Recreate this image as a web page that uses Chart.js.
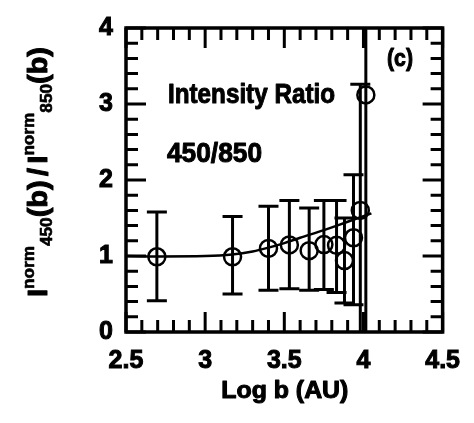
<!DOCTYPE html>
<html>
<head>
<meta charset="utf-8">
<script src="https://cdn.jsdelivr.net/npm/chart.js@4.4.1/dist/chart.umd.min.js"></script>
<style>
  html, body { margin: 0; padding: 0; background: #fff; }
  #wrap { width: 474px; height: 423px; }
</style>
</head>
<body>
<div id="wrap"><canvas id="ratioChart" width="474" height="423"></canvas></div>
<script>
// Intensity ratio 450/850 versus projected distance
const logB      = [2.695, 3.173, 3.40, 3.532, 3.657, 3.75, 3.83, 3.88, 3.937, 3.98, 4.015];
const ratio     = [0.99, 0.99, 1.10, 1.145, 1.07, 1.15, 1.14, 0.94, 1.24, 1.60, 3.12];
const ratioHigh = [1.58, 1.52, 1.655, 1.73, 1.63, 1.73, 1.73, 1.50, 2.07, 3.26, 4.6];
const ratioLow  = [0.41, 0.50, 0.55, 0.57, 0.55, 0.56, 0.52, 0.38, 0.36, -0.5, -0.5];

// model curve
const modelLogB  = [2.5, 2.7, 3.0, 3.17, 3.3, 3.4, 3.5, 3.6, 3.75, 3.9, 4.05];
const modelRatio = [1.0, 0.995, 1.0, 1.02, 1.06, 1.11, 1.17, 1.24, 1.34, 1.45, 1.56];

const xTickLabels = [2.5, 3, 3.5, 4, 4.5];
const yTickLabels = [0, 1, 2, 3, 4];

const FONT = '"Liberation Sans", Arial, Helvetica, sans-serif';
Chart.defaults.font.family = FONT;
Chart.defaults.color = '#000';

// heavy text: fill plus a thin stroke
function boldText(ctx, txt, x, y, stroke) {
    ctx.lineWidth = stroke;
    ctx.lineJoin = 'round';
    ctx.strokeStyle = '#000';
    ctx.fillText(txt, x, y);
    ctx.strokeText(txt, x, y);
}

// left-aligned heavy text squeezed to a given width
function fitText(ctx, txt, x, y, width) {
    const w = ctx.measureText(txt).width;
    ctx.save();
    ctx.translate(x, y);
    ctx.scale(width / w, 1);
    boldText(ctx, txt, 0, 0, 1);
    ctx.restore();
}

// box with inward major/minor ticks on all four sides
const frameTicks = {
    id: 'frameTicks',
    afterDraw(chart) {
        const { ctx, chartArea: a, scales: { x, y } } = chart;
        ctx.save();
        ctx.strokeStyle = '#000';
        ctx.lineWidth = 3;
        ctx.beginPath();
        for (let i = 25; i <= 45; i++) {
            const px = x.getPixelForValue(i / 10);
            const len = i % 5 === 0 ? 20 : 12;
            ctx.moveTo(px, a.bottom); ctx.lineTo(px, a.bottom - len);
            ctx.moveTo(px, a.top); ctx.lineTo(px, a.top + len);
        }
        for (let i = 0; i <= 20; i++) {
            const py = y.getPixelForValue(i / 5);
            const len = i % 5 === 0 ? 20 : 12;
            ctx.moveTo(a.left, py); ctx.lineTo(a.left + len, py);
            ctx.moveTo(a.right, py); ctx.lineTo(a.right - len, py);
        }
        ctx.stroke();
        ctx.lineWidth = 3.5;
        ctx.strokeRect(a.left, a.top, a.right - a.left, a.bottom - a.top);
        ctx.restore();
    }
};

const errorBars = {
    id: 'errorBars',
    beforeDatasetsDraw(chart) {
        const { ctx, chartArea: a, scales: { x, y } } = chart;
        ctx.save();
        ctx.beginPath();
        ctx.rect(a.left, a.top, a.right - a.left, a.bottom - a.top);
        ctx.clip();
        ctx.strokeStyle = '#000';
        ctx.lineWidth = 3;
        logB.forEach((b, i) => {
            const px = x.getPixelForValue(b);
            const hi = y.getPixelForValue(ratioHigh[i]);
            const lo = y.getPixelForValue(ratioLow[i]);
            ctx.beginPath();
            ctx.moveTo(px, hi); ctx.lineTo(px, lo);
            ctx.moveTo(px - 10, hi); ctx.lineTo(px + 10, hi);
            ctx.moveTo(px - 10, lo); ctx.lineTo(px + 10, lo);
            ctx.stroke();
        });
        ctx.restore();
    }
};

// annotations, x title and the y title with super/subscripts
const labels = {
    id: 'labels',
    afterDraw(chart) {
        const { ctx, chartArea: a } = chart;
        ctx.save();
        ctx.fillStyle = '#000';
        ctx.textBaseline = 'alphabetic';
        ctx.textAlign = 'left';
        ctx.font = 'bold 28px ' + FONT;
        fitText(ctx, 'Intensity Ratio', 168, 103, 167);
        fitText(ctx, '450/850', 167, 162, 95);
        ctx.font = 'bold 24px ' + FONT;
        fitText(ctx, '(c)', 387, 66, 26);

        ctx.font = 'bold 23px ' + FONT;
        fitText(ctx, 'Log b (AU)', (a.left + a.right) / 2 - 63, 398, 127);

        // I^norm_450(b)/I^norm_850(b), rotated
        const big = 'bold 27px ' + FONT;
        const small = 'bold 16px ' + FONT;
        const parts = [
            ['I', big, 0], ['norm', small, -13], ['450', small, 5], ['(b)', big, 0],
            ['/', big, 0],
            ['I', big, 0], ['norm', small, -13], ['850', small, 5], ['(b)', big, 0]
        ];
        let total = 0;
        const widths = parts.map(p => { ctx.font = p[1]; const w = ctx.measureText(p[0]).width + (p[0] === '/' ? 8 : 0); total += w; return w; });
        const span = 250;
        ctx.translate(47, 297);
        ctx.rotate(-Math.PI / 2);
        ctx.scale(span / total, 1);
        let u = 0;
        parts.forEach((p, i) => {
            ctx.font = p[1];
            boldText(ctx, p[0], u + (p[0] === '/' ? 4 : 0), p[2], p[1] === big ? 1 : 0.6);
            u += widths[i];
        });
        ctx.restore();
    }
};

const tickFont = { size: 25, weight: 'bold' };

new Chart(document.getElementById('ratioChart'), {
    type: 'scatter',
    data: {
        datasets: [
            {
                type: 'line',
                data: modelLogB.map((b, i) => ({ x: b, y: modelRatio[i] })),
                borderColor: '#000',
                borderWidth: 2.5,
                pointRadius: 0,
                cubicInterpolationMode: 'monotone',
                fill: false
            },
            {
                data: logB.map((b, i) => ({ x: b, y: ratio[i] })),
                borderColor: '#000',
                backgroundColor: 'rgba(0,0,0,0)',
                borderWidth: 2.5,
                pointRadius: 8.5,
                pointStyle: 'circle'
            }
        ]
    },
    options: {
        responsive: false,
        animation: false,
        layout: { padding: { top: 13, right: 27, left: 0, bottom: 0 } },
        plugins: { legend: { display: false }, tooltip: { enabled: false } },
        scales: {
            x: {
                type: 'linear',
                min: 2.5, max: 4.5,
                afterBuildTicks: s => { s.ticks = xTickLabels.map(v => ({ value: v })); },
                afterFit: s => { s.height = 91; },
                grid: { display: false, drawTicks: false },
                border: { display: false },
                ticks: { font: tickFont, padding: 14, maxRotation: 0, textStrokeColor: '#000', textStrokeWidth: 1, callback: v => String(v) }
            },
            y: {
                type: 'linear',
                min: 0, max: 4,
                afterBuildTicks: s => { s.ticks = yTickLabels.map(v => ({ value: v })); },
                afterFit: s => { s.width = 126; },
                grid: { display: false, drawTicks: false },
                border: { display: false },
                ticks: { font: tickFont, padding: 13, textStrokeColor: '#000', textStrokeWidth: 1, callback: v => String(v) }
            }
        }
    },
    plugins: [errorBars, frameTicks, labels]
});
</script>
</body>
</html>
